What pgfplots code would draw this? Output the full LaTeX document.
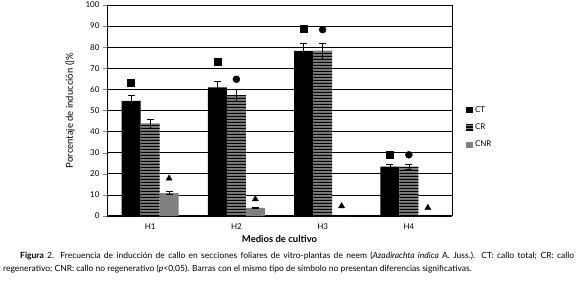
\documentclass[border=0pt]{standalone}
\usepackage{fontspec}
\setmainfont{Lato}
\usepackage{pgfplots}
\pgfplotsset{compat=1.18}
\usetikzlibrary{patterns}
\definecolor{bargray}{RGB}{128,128,128}
\pgfdeclarepatternformonly{hstripes}{\pgfpointorigin}{\pgfpoint{300pt}{3pt}}{\pgfpoint{300pt}{3pt}}{%
  \pgfpathrectangle{\pgfpointorigin}{\pgfpoint{300pt}{1.5pt}}\pgfusepath{fill}}
\begin{document}
\begin{tikzpicture}[x=1pt,y=1pt]
\useasboundingbox (0,0) rectangle (577,281);
\begin{axis}[
  at={(107pt,65pt)}, anchor=south west,
  scale only axis, width=345pt, height=211pt,
  xmin=-0.5, xmax=3.5, ymin=0, ymax=100,
  xtick={0,1,2,3}, xticklabels={H1,H2,H3,H4},
  ytick={0,10,...,100},
  ytick pos=left, tick align=outside,
  major tick length=4pt,
  x tick style={draw=none},
  ymajorgrids, major grid style={black, line width=0.8pt},
  axis line style={black, line width=0.8pt},
  axis x line*=bottom,
  every outer x axis line/.append style={line width=1.5pt},
  /pgf/number format/assume math mode=true,
  tick label style={font=\fontsize{8}{9}\selectfont},
  xlabel={\textbf{Medios de cultivo}},
  xlabel style={font=\fontsize{9.5}{11}\selectfont, at={(axis description cs:0.5,-0.11)}, anchor=center},
  ylabel={Porcentaje de inducción (]\%},
  ylabel style={font=\fontsize{9.5}{11}\selectfont, at={(axis description cs:-0.107,0.5)}, anchor=center},
  legend style={draw=none, fill=none, at={(1.04,0.42)}, anchor=west,
    font=\fontsize{8}{9}\selectfont, row sep=6pt, inner sep=0pt},
  legend cell align=left,
  legend image code/.code={\path[#1, draw=none] (0pt,-3pt) rectangle (7pt,3pt);},
  error bars/error bar style={black, line width=0.6pt},
  error bars/error mark options={black, rotate=90, mark size=3.5pt, line width=0.6pt},
]
\addplot[ybar, bar width=19pt, bar shift=-19pt, fill=black, draw=none]
  coordinates {(0,54.6) (1,61.0) (2,78.2) (3,23.4)};
\addlegendentry{CT}
\addplot[ybar, bar width=19pt, bar shift=0pt, fill=bargray, draw=none,
  postaction={pattern=hstripes, pattern color=black}]
  coordinates {(0,43.9) (1,57.3) (2,78.2) (3,23.4)};
\addlegendentry{CR}
\addplot[ybar, bar width=19pt, bar shift=19pt, fill=bargray, draw=none]
  coordinates {(0,10.9) (1,3.9) (2,0) (3,0)};
\addlegendentry{CNR}
% error bars (at the bar centres)
\addplot[draw=none, mark=none, forget plot, error bars/.cd, y dir=both, y explicit]
  coordinates {(-0.22,54.6) +- (0,2.6) (0.78,61.0) +- (0,2.8) (1.78,78.2) +- (0,3.6) (2.78,23.4) +- (0,1.1)};
\addplot[draw=none, mark=none, forget plot, error bars/.cd, y dir=both, y explicit]
  coordinates {(0,43.9) +- (0,2.1) (1,57.3) +- (0,2.8) (2,78.2) +- (0,3.8) (3,23.4) +- (0,1.1)};
\addplot[draw=none, mark=none, forget plot, error bars/.cd, y dir=both, y explicit]
  coordinates {(0.22,10.9) +- (0,0.8) (1.22,3.9) +- (0,0.3)};
% significance symbols
\addplot[only marks, mark=square*, mark size=3.5pt, black, forget plot]
  coordinates {(-0.22,63.2) (0.78,73.0) (1.78,88.8) (2.78,28.9)};
\addplot[only marks, mark=*, mark size=3.5pt, black, forget plot]
  coordinates {(1,64.8) (2,88.3) (3,29.0)};
\addplot[only marks, mark=triangle*, mark size=3.5pt, black, forget plot]
  coordinates {(0.22,17.8) (1.22,8.0) (2.22,4.7) (3.22,3.9)};
\end{axis}
\node[anchor=west, inner sep=0pt, font=\fontsize{8.5}{10}\selectfont] at (20,25)
  {\hbox to 554pt{\textbf{Figura} 2. Frecuencia de inducción de callo en secciones foliares de vitro-plantas de neem (\textit{Azadirachta indica} A. Juss.). CT: callo total; CR: callo}};
\node[anchor=west, inner sep=0pt, font=\fontsize{8.5}{10}\selectfont] at (3,12)
  {regenerativo; CNR: callo no regenerativo (\textit{p}<0,05). Barras con el mismo tipo de símbolo no presentan diferencias significativas.};
\end{tikzpicture}
\end{document}
